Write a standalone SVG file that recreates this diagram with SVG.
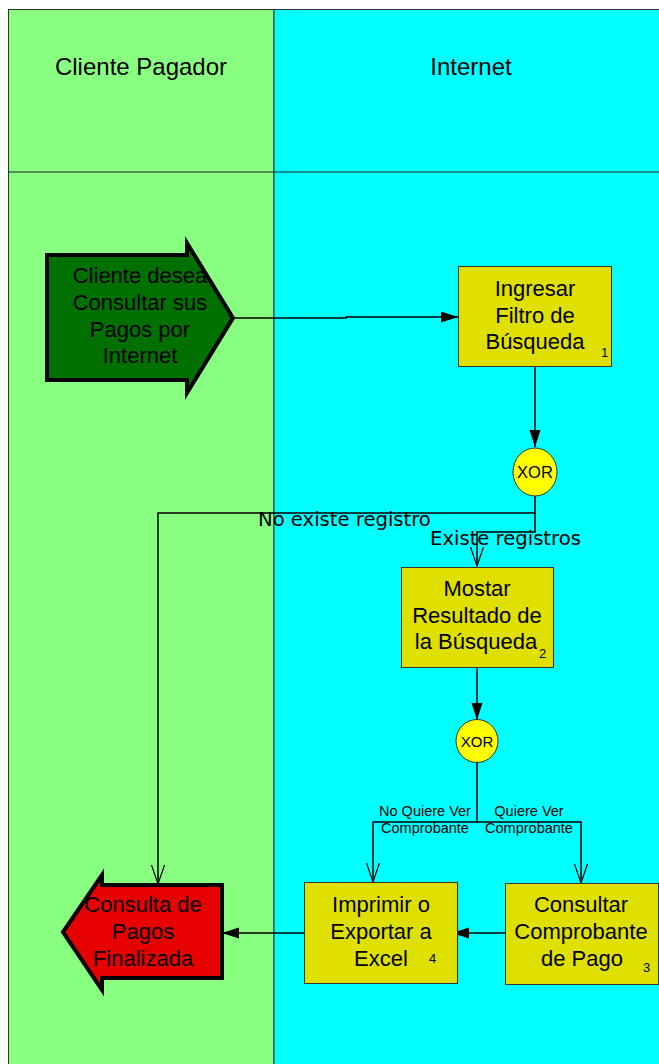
<svg xmlns="http://www.w3.org/2000/svg" width="659" height="1064" viewBox="0 0 659 1064">
<style>
text{font-family:"Liberation Sans",Arial,sans-serif;fill:#000}
.t{font-size:22px;text-anchor:middle}
.h{font-size:24px;text-anchor:middle}
.n{font-size:13px}
.lbl{font-family:"DejaVu Sans",Verdana,sans-serif;font-size:19.6px}
.sm{font-size:14.5px;text-anchor:middle}
.box{fill:#e0e000;stroke:#333;stroke-width:1}
.xor{fill:#ffff00;stroke:#333;stroke-width:1}
.con{fill:none;stroke:#000;stroke-width:1.5}
</style>
<defs>
<marker id="fa" markerUnits="userSpaceOnUse" markerWidth="18" markerHeight="12" refX="17" refY="5.5" orient="auto">
<path d="M0,0 L17,5.5 L0,11 z" fill="#000"/>
</marker>
<marker id="oa" markerUnits="userSpaceOnUse" markerWidth="21" markerHeight="15" refX="19" refY="7" orient="auto">
<path d="M0,0.5 L19,7 L0,13.5" fill="none" stroke="#000" stroke-width="1.2"/>
</marker>
</defs>
<g id="lanes">
<rect x="8.5" y="9.5" width="265.5" height="1060" fill="#88ff80" stroke="#333" stroke-width="1"/>
<rect x="274" y="9.5" width="392" height="1060" fill="#00ffff" stroke="#333" stroke-width="1"/>
<line x1="8.5" y1="172" x2="666" y2="172" stroke="#222" stroke-width="1"/>
<text class="h" x="141" y="75">Cliente Pagador</text>
<text class="h" x="471" y="75">Internet</text>
</g>
<g id="connectors">
<path class="con" d="M233,318 H346 V317 H458" marker-end="url(#fa)"/>
<path class="con" d="M535,367 V447" marker-end="url(#fa)"/>
<path class="con" d="M535,496 V513 H158 V884" marker-end="url(#oa)"/>
<path class="con" d="M535,513 V532 H477 V566" marker-end="url(#oa)"/>
<path class="con" d="M477,667 V720" marker-end="url(#fa)"/>
<path class="con" d="M477,763 V822 H373 V882" marker-end="url(#oa)"/>
<path class="con" d="M477,822 H581 V883" marker-end="url(#oa)"/>
<path class="con" d="M505,933 H452" marker-end="url(#fa)"/>
<path class="con" d="M304,933 H222" marker-end="url(#fa)"/>
<text class="lbl" x="258" y="526">No existe registro</text>
<text class="lbl" x="430" y="545">Existe registros</text>
<text class="sm" x="425" y="816">No Quiere Ver</text>
<text class="sm" x="425" y="833">Comprobante</text>
<text class="sm" x="529" y="816">Quiere Ver</text>
<text class="sm" x="529" y="833">Comprobante</text>
</g>
<g id="start">
<path d="M47,255 H187 V243 L233,318 L187,393 V380 H47 Z" fill="#007000" stroke="#000" stroke-width="4" stroke-linejoin="miter"/>
<text class="t" x="140" y="283">Cliente desea</text>
<text class="t" x="140" y="310">Consultar sus</text>
<text class="t" x="140" y="337">Pagos por</text>
<text class="t" x="140" y="363">Internet</text>
</g>
<g id="ingresar">
<rect class="box" x="458.5" y="266.5" width="153" height="100"/>
<text class="t" x="535" y="296">Ingresar</text>
<text class="t" x="535" y="323">Filtro de</text>
<text class="t" x="535" y="349">Búsqueda</text>
<text class="n" x="601" y="357">1</text>
</g>
<g id="xor1">
<ellipse class="xor" cx="535" cy="472" rx="22" ry="24"/>
<text x="535" y="478" style="font-size:16.5px;text-anchor:middle">XOR</text>
</g>
<g id="mostrar">
<rect class="box" x="401.5" y="567.5" width="152" height="100"/>
<text class="t" x="477" y="596">Mostar</text>
<text class="t" x="477" y="623">Resultado de</text>
<text class="t" x="476" y="649">la Búsqueda</text>
<text class="n" x="539" y="658">2</text>
</g>
<g id="xor2">
<ellipse class="xor" cx="477" cy="741" rx="21" ry="21.5"/>
<text x="477" y="746.5" style="font-size:15px;text-anchor:middle">XOR</text>
</g>
<g id="imprimir">
<rect class="box" x="304.5" y="882.5" width="153" height="101"/>
<text class="t" x="381" y="912">Imprimir o</text>
<text class="t" x="381" y="939">Exportar a</text>
<text class="t" x="381" y="966">Excel</text>
<text class="n" x="429" y="963">4</text>
</g>
<g id="consultar">
<rect class="box" x="505.5" y="883.5" width="153" height="101"/>
<text class="t" x="581" y="912">Consultar</text>
<text class="t" x="581" y="939">Comprobante</text>
<text class="t" x="582" y="966">de Pago</text>
<text class="n" x="643" y="972">3</text>
</g>
<g id="end">
<path d="M222,885 H102 V875 L63,932 L102,990 V978 H222 Z" fill="#e60000" stroke="#000" stroke-width="4" stroke-linejoin="miter"/>
<text class="t" x="143" y="912">Consulta de</text>
<text class="t" x="143" y="939">Pagos</text>
<text class="t" x="143" y="966">Finalizada</text>
</g>
</svg>
